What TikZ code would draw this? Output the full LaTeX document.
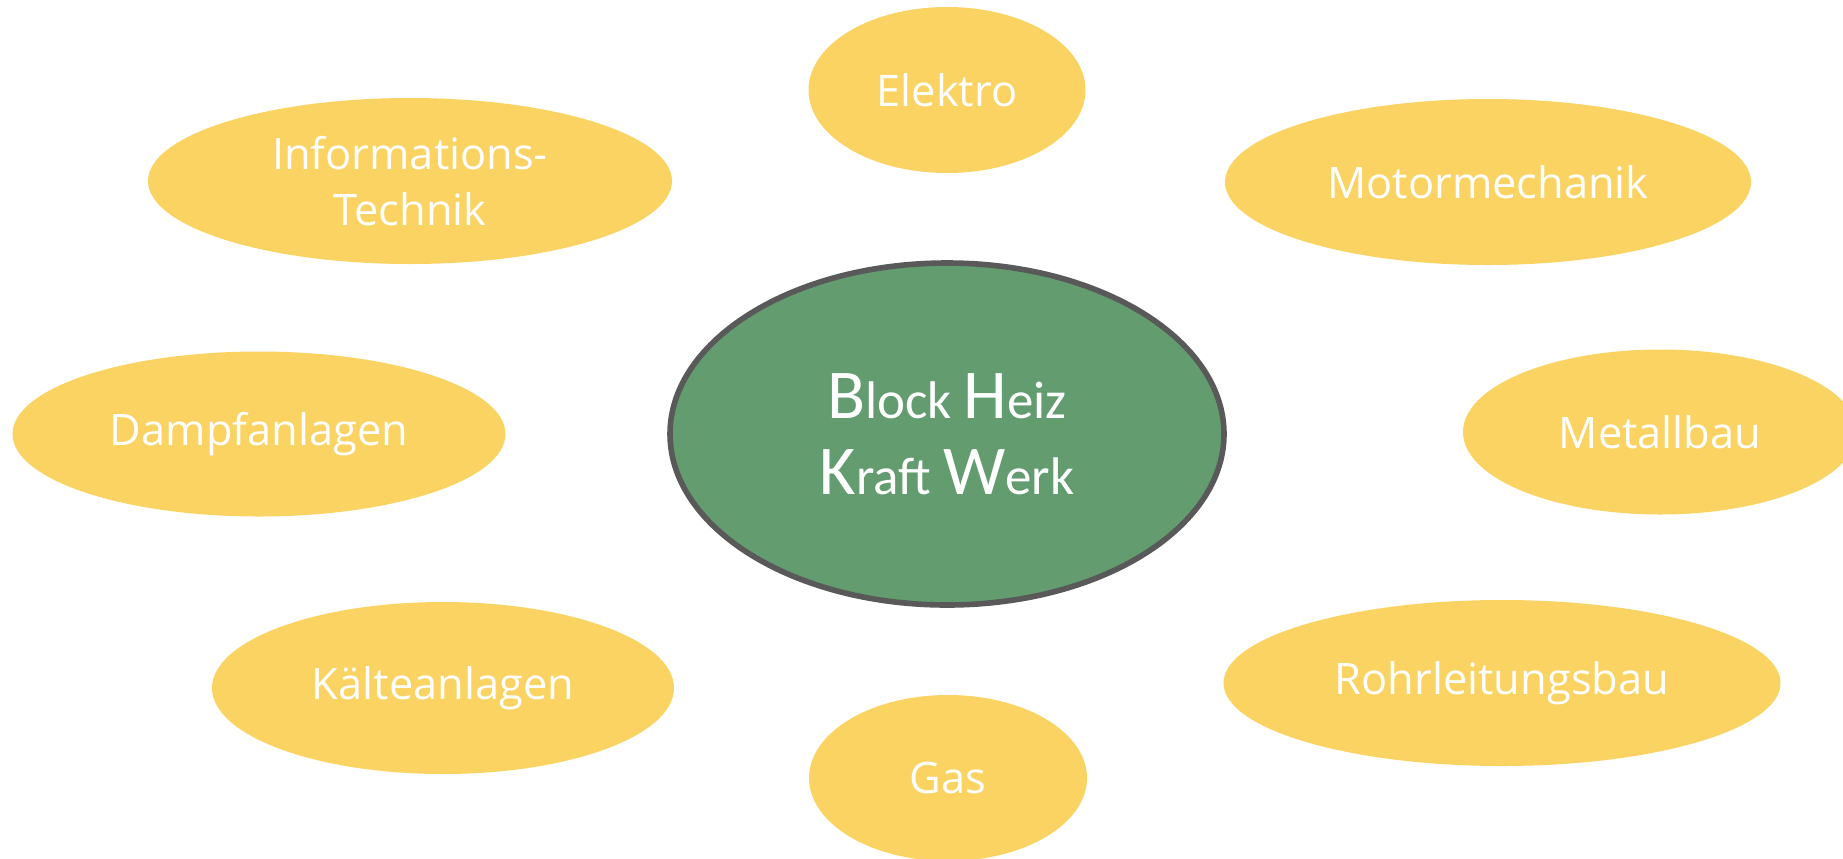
\documentclass[tikz,border=0pt]{standalone}
\usepackage{fontspec}
\setmainfont{Open Sans}
\newfontfamily\calibfont{Carlito}
\usetikzlibrary{shapes.geometric}
\definecolor{yel}{HTML}{FAD362}
\definecolor{grn}{HTML}{629C6F}
\definecolor{bord}{HTML}{595959}
\newcommand\capword[2]{{\fontsize{35}{38}\selectfont #1}{\fontsize{26.5}{38}\selectfont #2}}
\begin{document}
\begin{tikzpicture}[x=0.5pt,y=-0.5pt,
  oval/.style={ellipse, fill=yel, draw=none, inner sep=0pt, text=white,
    font=\fontsize{21.7}{28}\selectfont, align=center},
  hub/.style={ellipse, fill=grn, draw=bord, line width=2.8pt, inner sep=0pt, text=white,
    font=\calibfont\fontsize{26.5}{38}\selectfont, align=center}]
\useasboundingbox (0,0) rectangle (1843,858);
\node[oval, minimum width=138.5pt, minimum height=83pt] (elektro) at (947,90) {Elektro};
\node[oval, minimum width=262pt, minimum height=83pt] (info) at (410,181) {Informations-\\Technik};
\node[oval, minimum width=263pt, minimum height=83pt] (motor) at (1488,182) {Motormechanik};
\node[oval, minimum width=246.5pt, minimum height=82.5pt] (dampf) at (259,434) {Dampfanlagen};
\node[oval, minimum width=197pt, minimum height=82.5pt] (metall) at (1660,432) {Metallbau};
\node[oval, minimum width=231pt, minimum height=86pt] (kaelte) at (443,688) {Kälteanlagen};
\node[oval, minimum width=278.5pt, minimum height=83pt] (rohr) at (1502,683) {Rohrleitungsbau};
\node[oval, minimum width=139pt, minimum height=83pt] (gas) at (948,778) {Gas};
\node[hub, minimum width=277pt, minimum height=171pt] (bhkw) at (947,434)
  {\capword{B}{lock} \capword{H}{eiz}\\\capword{K}{raft} \capword{W}{erk}};
\end{tikzpicture}
\end{document}
